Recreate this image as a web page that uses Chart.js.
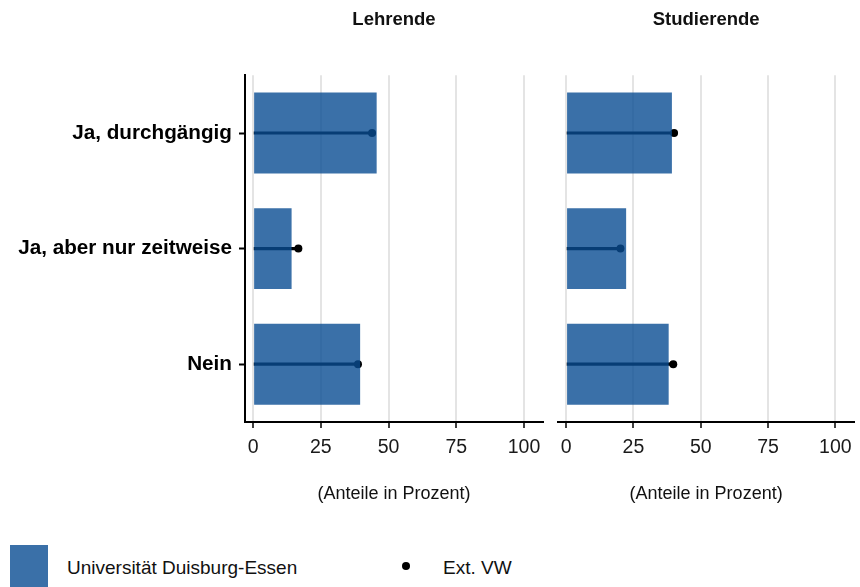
<!DOCTYPE html>
<html lang="de">
<head>
<meta charset="utf-8">
<title>Lehrende / Studierende</title>
<script src="https://cdn.jsdelivr.net/npm/chart.js@4"></script>
<style>
  html, body { margin: 0; padding: 0; background: #fff; }
  body { width: 860px; height: 587px; position: relative; overflow: hidden; font-family: "Liberation Sans", Arial, sans-serif; color: #111; }
  .panel { position: absolute; top: 0; }
  #leftPanel { left: 0; }
  #rightPanel { left: 548px; }
  .legend-box { position: absolute; left: 10px; top: 545px; width: 38px; height: 45px; background: rgba(9, 76, 146, 0.8); }
  .legend-text { position: absolute; font-size: 19px; line-height: 22px; }
  .legend-dot { position: absolute; left: 402px; top: 562px; width: 8px; height: 8px; border-radius: 50%; background: #000; }
</style>
</head>
<body>
<div class="panel" id="leftPanel"><canvas id="cLehrende" width="560" height="530"></canvas></div>
<div class="panel" id="rightPanel"><canvas id="cStudierende" width="312" height="530"></canvas></div>

<div class="legend-box"></div>
<div class="legend-text" style="left:67px; top:557px;">Universität Duisburg-Essen</div>
<div class="legend-dot"></div>
<div class="legend-text" style="left:443px; top:557px;">Ext. VW</div>

<script>
const categories = ["Ja, durchgängig", "Ja, aber nur zeitweise", "Nein"];
const xTicks = [0, 25, 50, 75, 100];

// Universität Duisburg-Essen (Balken)
const lehrendeUDE = [45.6, 14.2, 39.5];
const studierendeUDE = [39.3, 22.3, 38.1];

// Ext. VW (Punkte)
const lehrendeVW = [43.9, 16.7, 38.7];
const studierendeVW = [40.1, 20.2, 39.8];

const FONT = "'Liberation Sans', Arial, sans-serif";
const barColor = "rgba(9, 76, 146, 0.8)";

function buildPanel(canvasId, title, ude, vw, showY) {
  return new Chart(document.getElementById(canvasId), {
    data: {
      labels: categories,
      datasets: [
        {
          type: "bar",
          indexAxis: "y",
          data: ude,
          backgroundColor: barColor,
          barPercentage: 0.7,
          categoryPercentage: 1,
          grouped: false,
          order: 0,
        },
        {
          type: "line",
          indexAxis: "y",
          data: vw,
          showLine: false,
          pointRadius: 4,
          pointBackgroundColor: "#000",
          pointBorderWidth: 0,
          order: 1,
        },
        {
          type: "bar",
          indexAxis: "y",
          data: vw,
          backgroundColor: "#000",
          barThickness: 2.5,
          grouped: false,
          order: 2,
        },
      ],
    },
    options: {
      indexAxis: "y",
      responsive: false,
      animation: false,
      layout: {
        padding: showY ? { left: 0, right: 17, top: 0, bottom: 0 } : { left: 10, right: 4, top: 0, bottom: 0 },
      },
      plugins: {
        legend: { display: false },
        tooltip: { enabled: false },
        title: {
          display: true,
          text: title,
          fullSize: false,
          color: "#111",
          font: { family: FONT, size: 18.5, weight: "bold" },
          padding: { top: 9, bottom: 44 },
        },
      },
      scales: {
        x: {
          type: "linear",
          min: -3,
          max: 107,
          afterBuildTicks: (scale) => {
            scale.ticks = xTicks.map((v) => ({ value: v }));
          },
          afterFit: (scale) => {
            scale.height = 108;
          },
          ticks: {
            color: "#1a1a1a",
            padding: 8,
            font: { family: FONT, size: 19.5 },
          },
          grid: {
            color: "#e4e4e4",
            lineWidth: 2,
            tickColor: "#000",
            tickWidth: 1.5,
            tickLength: 6,
          },
          border: { display: true, color: "#000", width: 2 },
          title: {
            display: true,
            text: "(Anteile in Prozent)",
            color: "#111",
            font: { family: FONT, size: 18 },
            padding: { top: 0, bottom: 25 },
          },
        },
        y: {
          type: "category",
          display: showY,
          afterFit: (scale) => {
            if (showY) scale.width = 245;
          },
          ticks: {
            color: "#000",
            padding: 7,
            font: { family: FONT, size: 20.7, weight: "bold" },
          },
          grid: {
            offset: false,
            drawOnChartArea: false,
            tickColor: "#000",
            tickWidth: 2,
            tickLength: 6,
          },
          border: { display: true, color: "#000", width: 2 },
        },
      },
    },
  });
}

buildPanel("cLehrende", "Lehrende", lehrendeUDE, lehrendeVW, true);
buildPanel("cStudierende", "Studierende", studierendeUDE, studierendeVW, false);
</script>
</body>
</html>
